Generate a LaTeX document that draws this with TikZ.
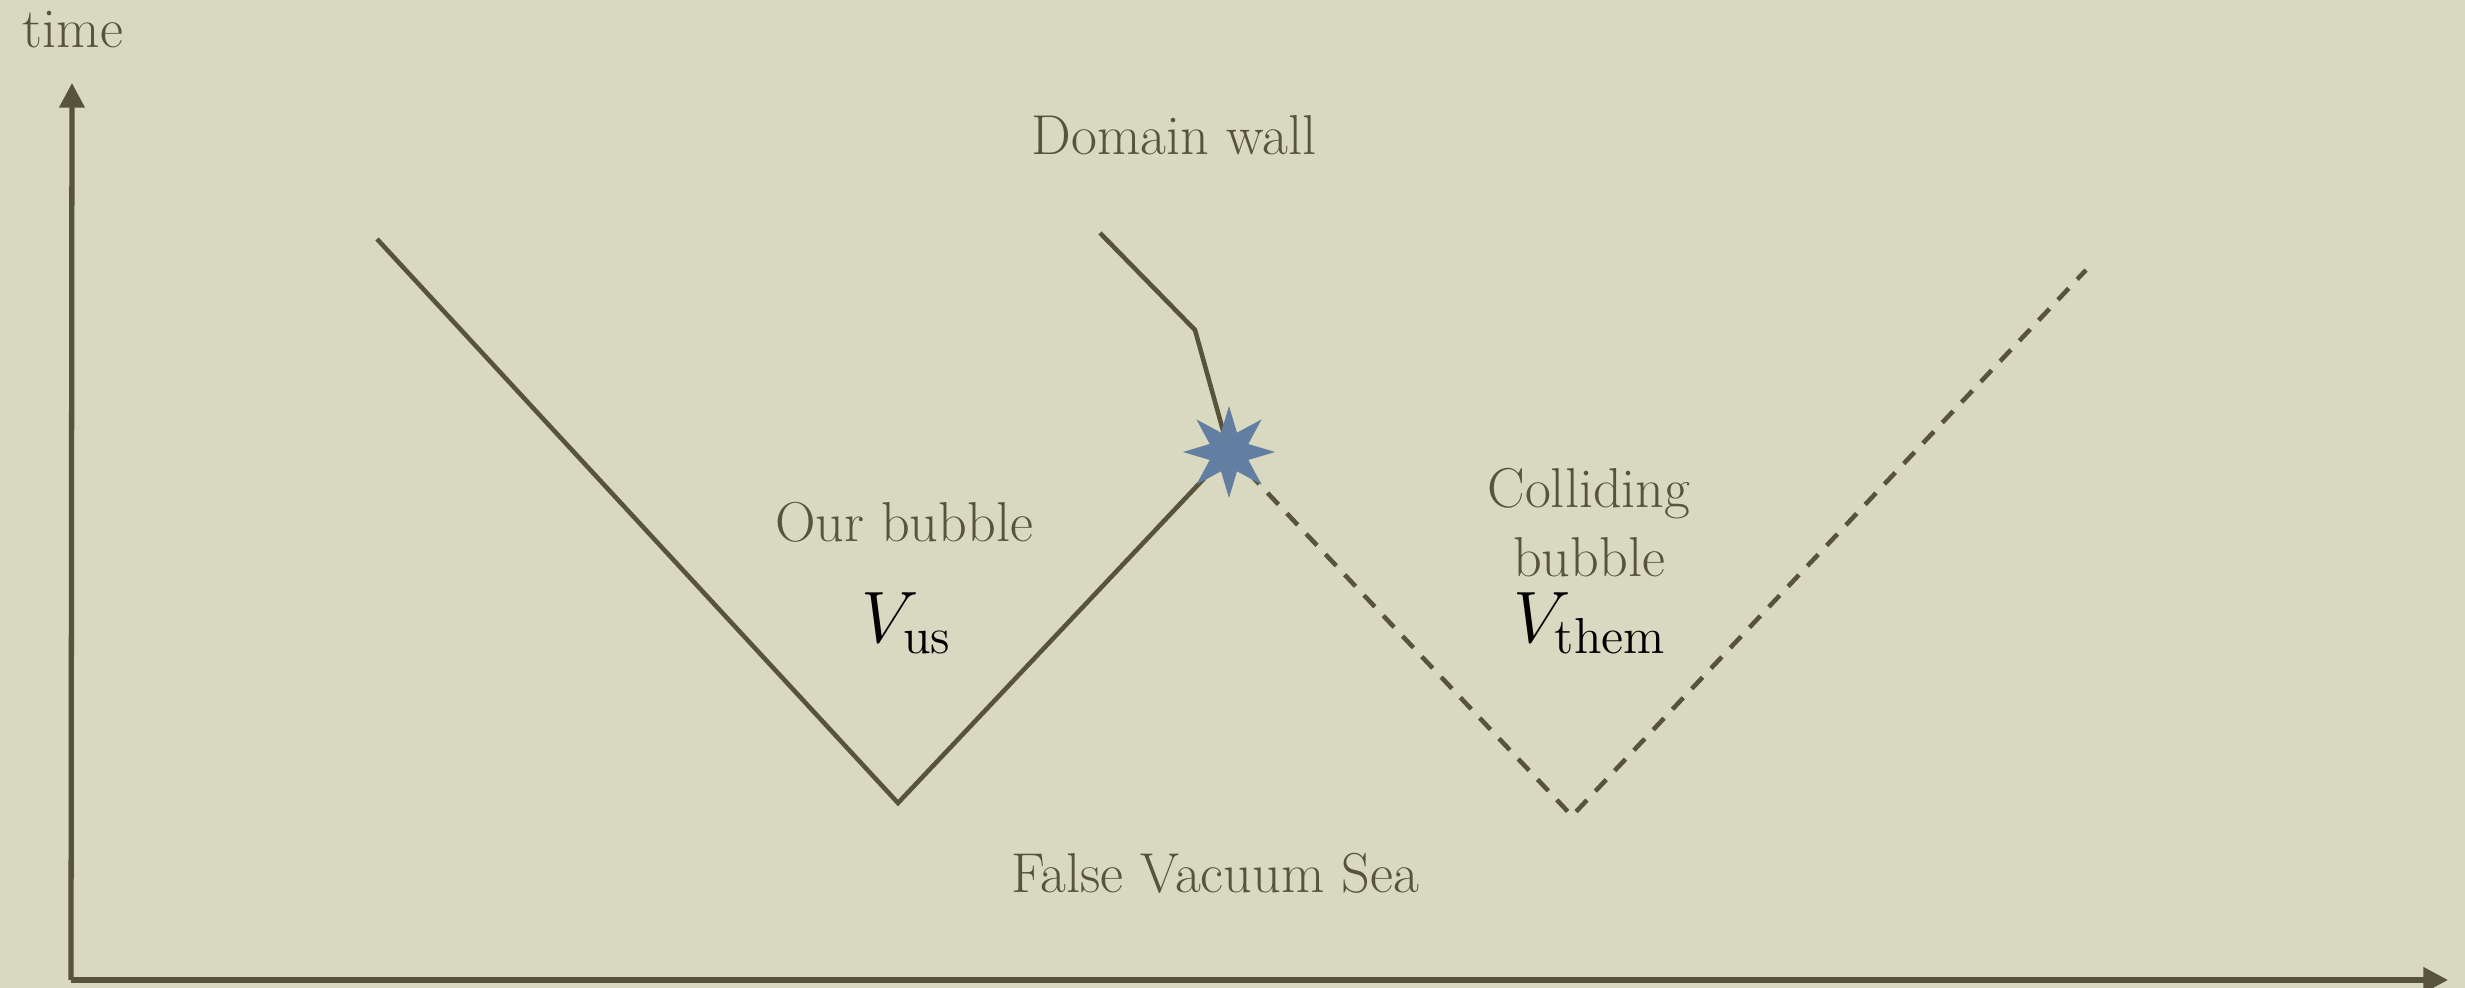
\documentclass[tikz,border=0pt]{standalone}
\usetikzlibrary{arrows.meta,shapes.geometric}
\definecolor{paper}{RGB}{216,217,192}
\definecolor{ink}{RGB}{88,84,60}
\definecolor{flash}{RGB}{98,126,160}
\begin{document}
\begin{tikzpicture}[
        wall/.style={draw=ink,line width=1.3pt},
        falsewall/.style={draw=ink,line width=1.3pt,dash pattern=on 4.5pt off 3.5pt},
        axis/.style={draw=ink,line width=1.5pt,-{Triangle[length=7pt,width=7pt]}},
        lbl/.style={text=ink,font=\fontsize{16}{19}\selectfont,anchor=base,inner sep=0pt},
        pot/.style={text=black,font=\fontsize{21}{25}\selectfont,anchor=base,inner sep=0pt}
    ]
        \fill [paper] (0,0) rectangle (24.65,9.88);
        \useasboundingbox (0,0) rectangle (24.65,9.88);
        % axes
        \coordinate (origin) at (0.71,0.08);
        \coordinate (tup) at (0.72,9.05);
        \coordinate (xright) at (24.48,0.08);
        \draw [axis] (origin) -- (tup);
        \draw [axis] (origin) -- (xright);
        \path (0.73,9.40) node [lbl] (timelbl) {time};
        % bubble walls
        \coordinate (ustop) at (3.77,7.49);
        \coordinate (usbottom) at (8.98,1.85);
        \coordinate (clash) at (12.29,5.36);
        \coordinate (thembottom) at (15.72,1.72);
        \coordinate (themtop) at (20.86,7.18);
        \coordinate (dwstart) at (11.00,7.55);
        \coordinate (dwkink) at (11.95,6.58);
        \draw [wall] (ustop) -- (usbottom) -- (clash);
        \draw [wall] (dwstart) -- (dwkink) -- (clash);
        \draw [falsewall] (clash) -- (thembottom) -- (themtop);
        \node [star,star points=8,star point ratio=2.2,minimum size=0.92cm,fill=flash,inner sep=0pt] (collision) at (clash) {};
        % labels
        \path (11.74,8.33) node [lbl] (dwlbl) {Domain wall};
        \path (9.04,4.46) node [lbl] (ourlbl) {Our bubble};
        \path (9.07,3.45) node [pot] (vus) {$V_{\mathrm{us}}$};
        \path (15.89,4.80) node [lbl] (collidinglbl) {Colliding};
        \path (15.89,4.11) node [lbl] (bubblelbl) {bubble};
        \path (15.90,3.45) node [pot] (vthem) {$V_{\mathrm{them}}$};
        \path (12.15,0.95) node [lbl] (sealbl) {False Vacuum Sea};
    \end{tikzpicture}
\end{document}
